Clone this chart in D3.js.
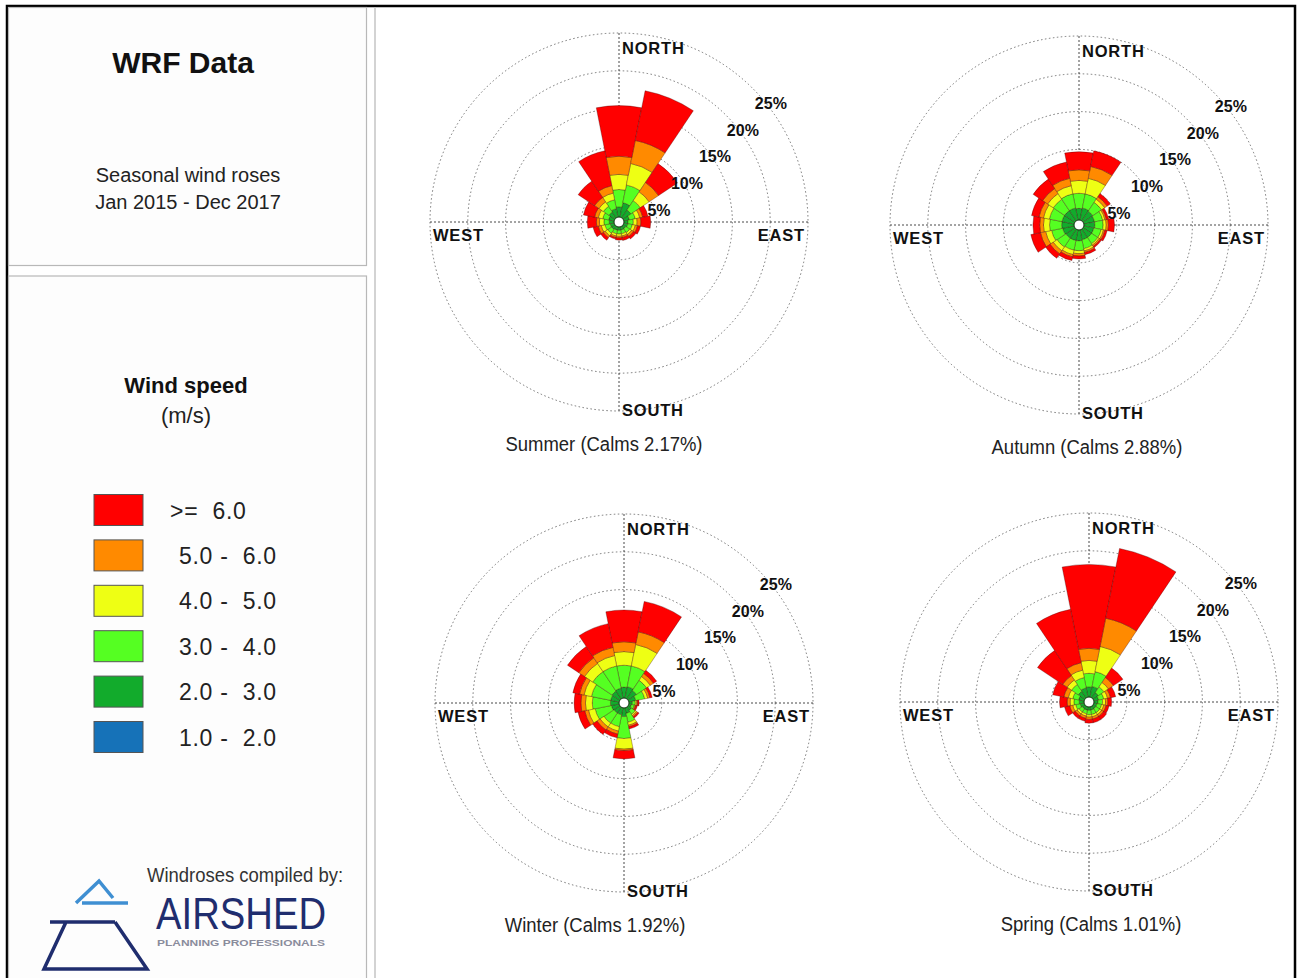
<!DOCTYPE html>
<html>
<head>
<meta charset="utf-8">
<script src="https://cdn.jsdelivr.net/npm/d3@7"></script>
<style>
  body { margin: 0; background: #fff; }
  text { font-family: "Liberation Sans", Arial, Helvetica, sans-serif; }
</style>
</head>
<body>
<svg id="chart" width="1298" height="978"></svg>
<script>
// ==================================
// DATA
// ==================================
const directions = ["N", "NNE", "NE", "ENE", "E", "ESE", "SE", "SSE",
                    "S", "SSW", "SW", "WSW", "W", "WNW", "NW", "NNW"];
const speedLabels = ["1.0 -  2.0", "2.0 -  3.0", "3.0 -  4.0", "4.0 -  5.0", "5.0 -  6.0", ">=  6.0"];
const speedColors = ["#1672b8", "#12ab2c", "#55ff22", "#eeff14", "#ff8a00", "#ff0000"];
const ringTicks = [5, 10, 15, 20, 25];
const seasonNames = ["Summer", "Autumn", "Winter", "Spring"];
const seasonCalms = [2.17, 2.88, 1.92, 1.01];

// % frequency per direction (rows, N clockwise) and speed class (columns, 1-2 ... >=6)
const summer = [
  [0.3, 1.7, 2.3, 2.0, 2.4, 6.7],
  [0.3, 2.3, 2.4, 2.9, 3.1, 6.7],
  [0.3, 1.6, 1.5, 1.4, 1.5, 3.0],
  [0.3, 1.1, 0.8, 0.6, 0.4, 0.7],
  [0.3, 0.9, 0.7, 0.5, 0.5, 1.3],
  [0.3, 0.9, 0.6, 0.4, 0.3, 0.4],
  [0.3, 0.8, 0.6, 0.3, 0.3, 0.4],
  [0.3, 0.8, 0.5, 0.3, 0.2, 0.4],
  [0.3, 0.8, 0.5, 0.3, 0.2, 0.3],
  [0.3, 0.8, 0.5, 0.3, 0.2, 0.2],
  [0.3, 0.9, 0.6, 0.4, 0.3, 0.4],
  [0.3, 0.9, 0.7, 0.5, 0.4, 0.7],
  [0.3, 1.0, 0.7, 0.6, 0.4, 1.2],
  [0.3, 1.1, 0.8, 0.6, 0.5, 1.5],
  [0.3, 1.3, 0.9, 0.7, 0.7, 2.6],
  [0.3, 1.5, 1.2, 0.9, 1.0, 4.7]
];
const autumn = [
  [0.4, 1.8, 2.0, 1.7, 1.4, 2.4],
  [0.4, 1.9, 1.9, 2.1, 1.6, 2.1],
  [0.4, 1.8, 1.4, 0.5, 0.4, 0.5],
  [0.4, 1.7, 1.1, 0.3, 0.2, 0.3],
  [0.4, 1.7, 1.1, 0.4, 0.3, 0.8],
  [0.4, 1.6, 1.0, 0.3, 0.2, 0.3],
  [0.4, 1.6, 1.0, 0.2, 0.2, 0.2],
  [0.4, 1.6, 1.2, 0.3, 0.2, 0.3],
  [0.4, 1.7, 1.3, 0.4, 0.3, 0.4],
  [0.4, 1.7, 1.3, 0.6, 0.3, 0.5],
  [0.4, 1.7, 1.4, 0.6, 0.5, 0.7],
  [0.4, 1.8, 1.5, 0.8, 0.7, 1.3],
  [0.4, 1.9, 1.6, 0.8, 0.5, 0.9],
  [0.4, 1.9, 1.7, 0.8, 0.6, 1.0],
  [0.4, 1.9, 1.8, 0.9, 0.8, 1.5],
  [0.4, 1.9, 1.9, 1.1, 1.0, 2.2]
];
const winter = [
  [0.3, 1.8, 2.9, 1.8, 1.3, 4.2],
  [0.3, 1.9, 2.8, 2.9, 1.7, 4.1],
  [0.3, 1.7, 1.6, 0.6, 0.5, 0.5],
  [0.3, 1.3, 1.2, 0.4, 0.3, 0.3],
  [0.3, 0.8, 0.4, 0.2, 0.1, 0.2],
  [0.3, 0.7, 0.4, 0.1, 0.1, 0.2],
  [0.3, 0.9, 0.6, 0.2, 0.2, 0.2],
  [0.3, 1.1, 1.2, 0.4, 0.2, 0.3],
  [0.3, 1.5, 2.9, 1.4, 0.2, 1.1],
  [0.3, 1.3, 1.6, 0.6, 0.4, 0.5],
  [0.3, 1.3, 1.6, 0.6, 0.5, 0.7],
  [0.3, 1.4, 2.2, 0.9, 0.5, 0.9],
  [0.3, 1.5, 2.4, 0.9, 0.6, 0.9],
  [0.3, 1.5, 2.6, 1.0, 0.6, 0.9],
  [0.3, 1.6, 3.1, 1.3, 0.9, 1.8],
  [0.3, 1.7, 3.0, 1.4, 1.1, 3.2]
];
const spring = [
  [0.3, 1.7, 1.8, 1.7, 1.6, 11.1],
  [0.3, 1.8, 2.0, 3.4, 3.8, 9.4],
  [0.3, 1.2, 0.9, 0.7, 0.8, 1.5],
  [0.3, 1.0, 0.7, 0.5, 0.4, 0.7],
  [0.3, 0.9, 0.6, 0.4, 0.3, 0.5],
  [0.3, 0.8, 0.6, 0.3, 0.3, 0.4],
  [0.3, 0.8, 0.6, 0.3, 0.3, 0.5],
  [0.3, 0.8, 0.6, 0.3, 0.3, 0.5],
  [0.3, 0.8, 0.6, 0.3, 0.3, 0.5],
  [0.3, 0.8, 0.5, 0.3, 0.3, 0.4],
  [0.3, 0.8, 0.5, 0.3, 0.3, 0.4],
  [0.3, 0.9, 0.6, 0.4, 0.4, 0.7],
  [0.3, 1.0, 0.7, 0.5, 0.4, 1.0],
  [0.3, 1.1, 0.8, 0.6, 0.6, 1.5],
  [0.3, 1.4, 1.1, 0.7, 0.7, 4.0],
  [0.3, 1.6, 1.4, 1.0, 1.0, 7.2]
];
const seasonData = [summer, autumn, winter, spring];

// ==================================
// LAYOUT
// ==================================
const W = 1298, H = 978;
const ROSE_R = 189;
const roseCenters = [[619, 222], [1079, 225], [624, 703], [1089, 702]];
const titleX = [604, 1087, 595, 1091];

const svg = d3.select("#chart");

// frame + left panels
svg.append("rect").attr("x", 7).attr("y", 6).attr("width", 1288).attr("height", 990)
  .attr("fill", "none").attr("stroke", "#000").attr("stroke-width", 2.5);
svg.append("rect").attr("x", 8.5).attr("y", 7.5).attr("width", 358).attr("height", 258)
  .attr("fill", "#fdfdfd").attr("stroke", "#b8b8b8").attr("stroke-width", 1.2);
svg.append("rect").attr("x", 8.5).attr("y", 276).attr("width", 358).attr("height", 720)
  .attr("fill", "#fdfdfd").attr("stroke", "#b8b8b8").attr("stroke-width", 1.2);
svg.append("line").attr("x1", 375).attr("x2", 375).attr("y1", 7).attr("y2", H)
  .attr("stroke", "#c4c4c4").attr("stroke-width", 1.5);

// title block
svg.append("text").attr("x", 183).attr("y", 73).attr("text-anchor", "middle")
  .style("font-size", "30px").style("font-weight", "bold").attr("fill", "#111").text("WRF Data");
svg.append("text").attr("x", 188).attr("y", 182).attr("text-anchor", "middle")
  .style("font-size", "20px").attr("fill", "#222").text("Seasonal wind roses");
svg.append("text").attr("x", 188).attr("y", 209).attr("text-anchor", "middle")
  .style("font-size", "20px").attr("fill", "#222").text("Jan 2015 - Dec 2017");

// legend
svg.append("text").attr("x", 186).attr("y", 393).attr("text-anchor", "middle")
  .style("font-size", "22px").style("font-weight", "bold").attr("fill", "#111").text("Wind speed");
svg.append("text").attr("x", 186).attr("y", 423).attr("text-anchor", "middle")
  .style("font-size", "22px").attr("fill", "#222").text("(m/s)");

const legendOrder = d3.range(speedLabels.length).reverse();
const legendY = d3.scalePoint().domain(legendOrder).range([510, 737]);
const legend = svg.append("g").selectAll("g").data(legendOrder).enter().append("g")
  .attr("transform", d => `translate(0,${legendY(d)})`);
legend.append("rect").attr("x", 94).attr("y", -15.5).attr("width", 49).attr("height", 31)
  .attr("fill", d => speedColors[d]).attr("stroke", "#555").attr("stroke-width", 1);
legend.append("text").attr("x", d => d === speedLabels.length - 1 ? 170 : 179).attr("y", 8.5)
  .style("font-size", "23px").style("letter-spacing", "0.7px").style("white-space", "pre")
  .attr("fill", "#222").text(d => speedLabels[d]);

// logo
const logo = svg.append("g");
logo.append("path").attr("d", "M76,903 L99,881 L113,898").attr("fill", "none")
  .attr("stroke", "#3f8fd2").attr("stroke-width", 3.5);
logo.append("path").attr("d", "M82,903 L128,903").attr("stroke", "#3f8fd2").attr("stroke-width", 3.5);
logo.append("path").attr("d", "M50,922 L115,922 M66,922 L44,969 L147,969 L115,922")
  .attr("fill", "none").attr("stroke", "#1f2d6e").attr("stroke-width", 3.5);
logo.append("text").attr("x", 147).attr("y", 882)
  .attr("transform", "translate(147,882) scale(0.88,1) translate(-147,-882)")
  .style("font-size", "21px").attr("fill", "#333").text("Windroses compiled by:");
logo.append("text").attr("x", 156).attr("y", 929).attr("textLength", 170).attr("lengthAdjust", "spacingAndGlyphs")
  .style("font-size", "44px").attr("fill", "#1f2d6e").text("AIRSHED");
logo.append("text").attr("x", 157).attr("y", 946).attr("textLength", 168).attr("lengthAdjust", "spacingAndGlyphs")
  .style("font-size", "9.5px").style("font-weight", "bold").attr("fill", "#8a8c9c").text("PLANNING PROFESSIONALS");

// ==================================
// WIND ROSES
// ==================================
const rScale = d3.scaleLinear().domain([0, 25]).range([0, ROSE_R]);
const sector = 2 * Math.PI / directions.length;
const arc = d3.arc();
const stack = d3.stack().keys(d3.range(speedLabels.length));

seasonData.forEach(function(data, s) {
  const [cx, cy] = roseCenters[s];
  const g = svg.append("g").attr("transform", `translate(${cx},${cy})`);

  // rings
  g.selectAll("circle.ring").data(ringTicks).enter().append("circle")
    .attr("class", "ring").attr("r", d => rScale(d))
    .attr("fill", "none").attr("stroke", "#666").attr("stroke-width", 0.9)
    .attr("stroke-dasharray", "1.5,2.5");

  // axes
  g.append("line").attr("x1", -ROSE_R).attr("x2", ROSE_R).attr("y1", 0).attr("y2", 0)
    .attr("stroke", "#333").attr("stroke-width", 0.9).attr("stroke-dasharray", "2,2");
  g.append("line").attr("y1", -ROSE_R).attr("y2", ROSE_R).attr("x1", 0).attr("x2", 0)
    .attr("stroke", "#333").attr("stroke-width", 0.9).attr("stroke-dasharray", "2,2");

  // petals
  const series = stack(data);
  series.forEach(function(layer, k) {
    g.selectAll("path.k" + k).data(layer).enter().append("path")
      .attr("class", "k" + k)
      .attr("d", (d, i) => arc({
        innerRadius: rScale(d[0]),
        outerRadius: rScale(d[1]),
        startAngle: i * sector - sector / 2,
        endAngle: i * sector + sector / 2
      }))
      .attr("fill", speedColors[k])
      .attr("stroke", "rgba(60,0,0,0.55)").attr("stroke-width", 0.6);
  });

  // calms circle
  g.append("circle").attr("r", 5).attr("fill", "#fff").attr("stroke", "#1a3a1a").attr("stroke-width", 1);

  // ring labels
  g.selectAll("text.pct").data(ringTicks).enter().append("text")
    .attr("class", "pct")
    .attr("x", d => 0.74 * rScale(d) + 12)
    .attr("y", d => -0.706 * rScale(d) + 15)
    .attr("text-anchor", "middle").attr("dominant-baseline", "central")
    .style("font-size", "16px").style("font-weight", "bold").attr("fill", "#111")
    .text(d => d + "%");

  // compass labels
  const lab = g.append("g").style("font-size", "16.5px").style("font-weight", "bold")
    .style("letter-spacing", "0.8px").attr("fill", "#111");
  lab.append("text").attr("x", 3).attr("y", -ROSE_R + 21).text("NORTH");
  lab.append("text").attr("x", 3).attr("y", ROSE_R + 5).text("SOUTH");
  lab.append("text").attr("x", -ROSE_R + 3).attr("y", 19).text("WEST");
  lab.append("text").attr("x", ROSE_R - 3).attr("y", 19).attr("text-anchor", "end").text("EAST");

  // title
  const ty = cy + 229;
  svg.append("text").attr("x", titleX[s]).attr("y", ty).attr("text-anchor", "middle")
    .attr("transform", `translate(${titleX[s]},${ty}) scale(0.88,1) translate(${-titleX[s]},${-ty})`)
    .style("font-size", "21px").attr("fill", "#222")
    .text(`${seasonNames[s]} (Calms ${seasonCalms[s].toFixed(2)}%)`);
});
</script>
</body>
</html>
